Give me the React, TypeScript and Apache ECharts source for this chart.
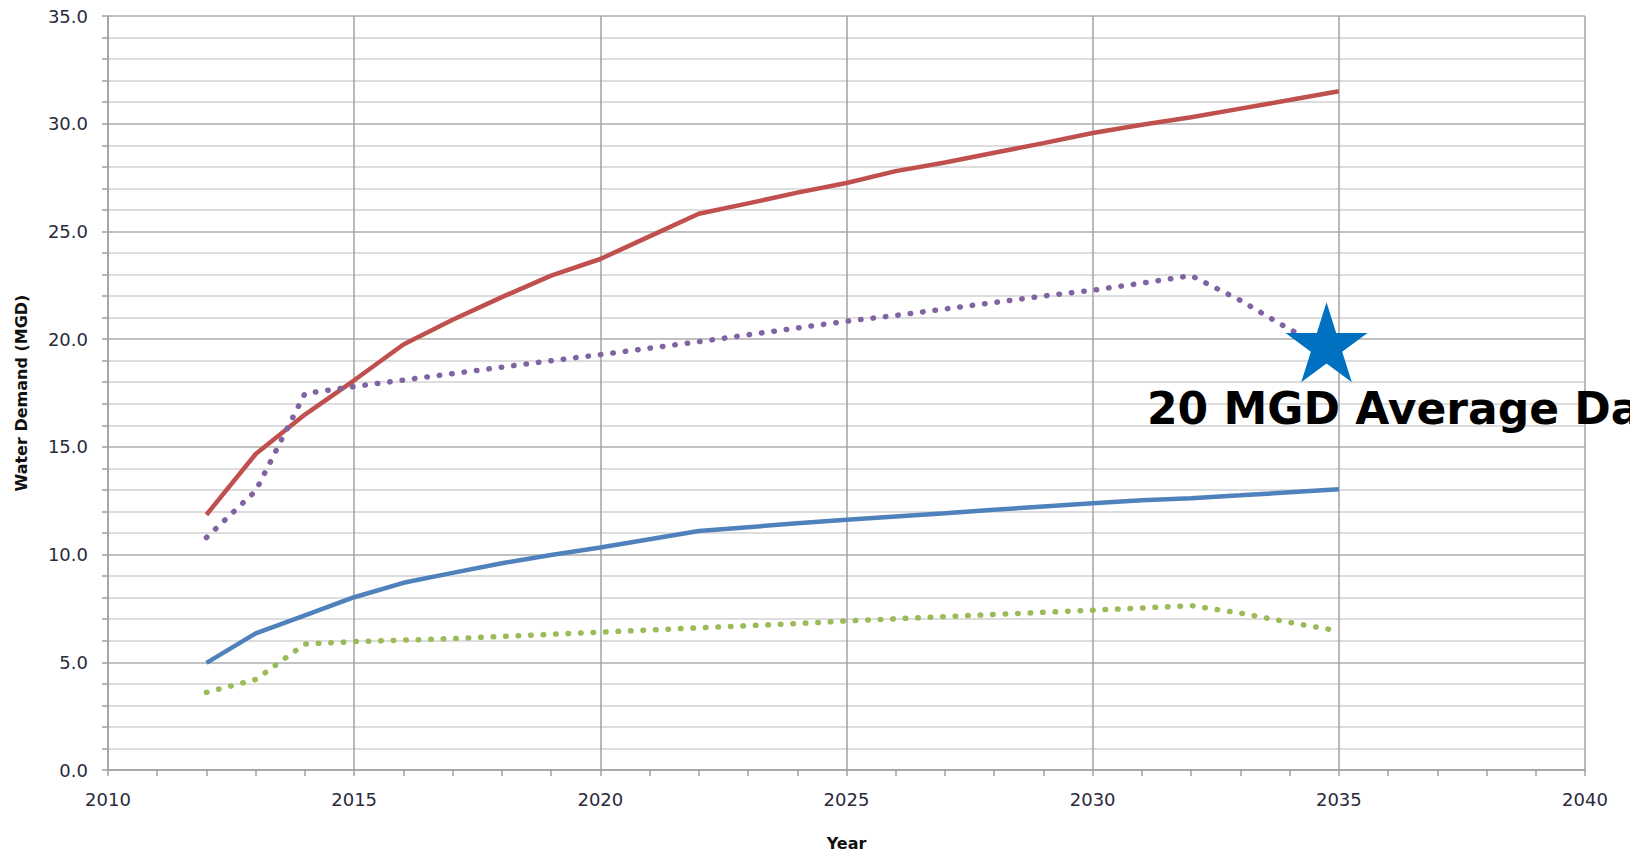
import React, { useEffect, useRef } from "react";
import * as echarts from "echarts";

const years = [2012, 2013, 2014, 2015, 2016, 2017, 2018, 2019, 2020, 2021, 2022, 2023, 2024, 2025, 2026, 2027, 2028, 2029, 2030, 2031, 2032, 2033, 2034, 2035];
const redSeries = [11.85, 14.67, 16.5, 18.09, 19.75, 20.9, 21.95, 22.95, 23.72, 24.77, 25.82, 26.3, 26.8, 27.25, 27.8, 28.2, 28.65, 29.1, 29.57, 29.95, 30.3, 30.7, 31.1, 31.51];
const blueSeries = [4.97, 6.34, 7.18, 8.02, 8.69, 9.15, 9.6, 9.98, 10.33, 10.71, 11.09, 11.27, 11.45, 11.62, 11.77, 11.92, 12.08, 12.23, 12.38, 12.52, 12.62, 12.75, 12.89, 13.03];
const purpleSeries = [10.79, 12.96, 17.48, 17.8, 18.1, 18.4, 18.7, 19.0, 19.28, 19.58, 19.88, 20.2, 20.52, 20.83, 21.1, 21.4, 21.7, 22.0, 22.27, 22.6, 22.95, 21.8, 20.45, 19.4];
const greenSeries = [3.6, 4.2, 5.85, 5.96, 6.03, 6.1, 6.2, 6.3, 6.4, 6.5, 6.6, 6.7, 6.8, 6.92, 7.02, 7.12, 7.22, 7.32, 7.42, 7.52, 7.63, 7.28, 6.85, 6.45];
const starPoint = [2034.75, 19.85];
const annotationText = "20 MGD Average Day";
const yAxisTitle = "Water Demand (MGD)";
const xAxisTitle = "Year";

const starPath =
  "path://M50,0 L61.23,34.55 L97.55,34.55 L68.16,55.9 L79.39,90.45 L50,69.1 L20.61,90.45 L31.84,55.9 L2.45,34.55 L38.77,34.55 Z";

const pairs = (vals: number[]) => years.map((y, i) => [y, vals[i]]);

export default function App() {
  const ref = useRef<HTMLDivElement>(null);
  useEffect(() => {
    if (!ref.current) return;
    const chart = echarts.init(ref.current, undefined, { renderer: "svg" });
    const labelFont = "DejaVu Sans";
    chart.setOption({
      animation: false,
      backgroundColor: "#ffffff",
      grid: { left: 108, right: 45, top: 16, bottom: 73, containLabel: false },
      xAxis: {
        type: "value",
        min: 2010,
        max: 2040,
        interval: 5,
        name: xAxisTitle,
        nameLocation: "middle",
        nameGap: 65,
        nameTextStyle: { fontFamily: labelFont, fontWeight: "bold", fontSize: 16, color: "#111" },
        axisLine: { show: true, lineStyle: { color: "#a0a0a0", width: 1.5 } },
        axisTick: { show: true, length: 6, lineStyle: { color: "#a0a0a0", width: 1.5 } },
        minorTick: { show: true, splitNumber: 5, length: 6, lineStyle: { color: "#a0a0a0", width: 1.5 } },
        axisLabel: {
          margin: 20,
          fontFamily: labelFont,
          fontSize: 18,
          color: "#2a2a3a",
          formatter: (v: number) => String(v),
        },
        splitLine: { show: true, lineStyle: { color: "#a3a3a3", width: 1.5 } },
        minorSplitLine: { show: false },
      },
      yAxis: {
        type: "value",
        min: 0,
        max: 35,
        interval: 5,
        name: yAxisTitle,
        nameLocation: "middle",
        nameGap: 79,
        nameRotate: 90,
        nameTextStyle: { fontFamily: labelFont, fontWeight: "bold", fontSize: 16, color: "#111" },
        axisLine: { show: true, lineStyle: { color: "#a0a0a0", width: 1.5 } },
        axisTick: { show: true, length: 6, lineStyle: { color: "#a0a0a0", width: 1.5 } },
        minorTick: { show: true, splitNumber: 5, length: 6, lineStyle: { color: "#a0a0a0", width: 1.5 } },
        axisLabel: {
          margin: 20,
          fontFamily: labelFont,
          fontSize: 18,
          color: "#2a2a3a",
          formatter: (v: number) => v.toFixed(1),
        },
        splitLine: { show: true, lineStyle: { color: "#adadad", width: 1.5 } },
        minorSplitLine: { show: true, lineStyle: { color: "#d2d2d2", width: 1.5 } },
      },
      series: [
        {
          type: "line",
          data: pairs(redSeries),
          showSymbol: false,
          lineStyle: { color: "#C0504D", width: 4.5 },
          z: 3,
        },
        {
          type: "line",
          data: pairs(blueSeries),
          showSymbol: false,
          lineStyle: { color: "#4F81BD", width: 4.5 },
          z: 3,
        },
        {
          type: "line",
          data: pairs(purpleSeries),
          showSymbol: false,
          lineStyle: { color: "#8064A2", width: 5.5, type: [0.5, 12], cap: "round" },
          z: 4,
        },
        {
          type: "line",
          data: pairs(greenSeries),
          showSymbol: false,
          lineStyle: { color: "#9BBB59", width: 5.5, type: [0.5, 12], cap: "round" },
          z: 4,
        },
        {
          type: "scatter",
          data: [starPoint],
          symbol: starPath,
          symbolSize: [82, 80],
          itemStyle: { color: "#0070C0", opacity: 1 },
          z: 6,
          silent: true,
        },
      ],
      graphic: [
        {
          type: "text",
          left: 1147,
          top: 386,
          z: 10,
          style: {
            text: annotationText,
            fontFamily: "DejaVu Sans",
            fontWeight: "bold",
            fontSize: 44,
            fill: "#000000",
          },
        },
      ],
    });
    return () => chart.dispose();
  }, []);
  return (
    <div
      ref={ref}
      style={{ position: "fixed", left: 0, top: 0, width: 1630, height: 856, background: "#fff" }}
    />
  );
}
